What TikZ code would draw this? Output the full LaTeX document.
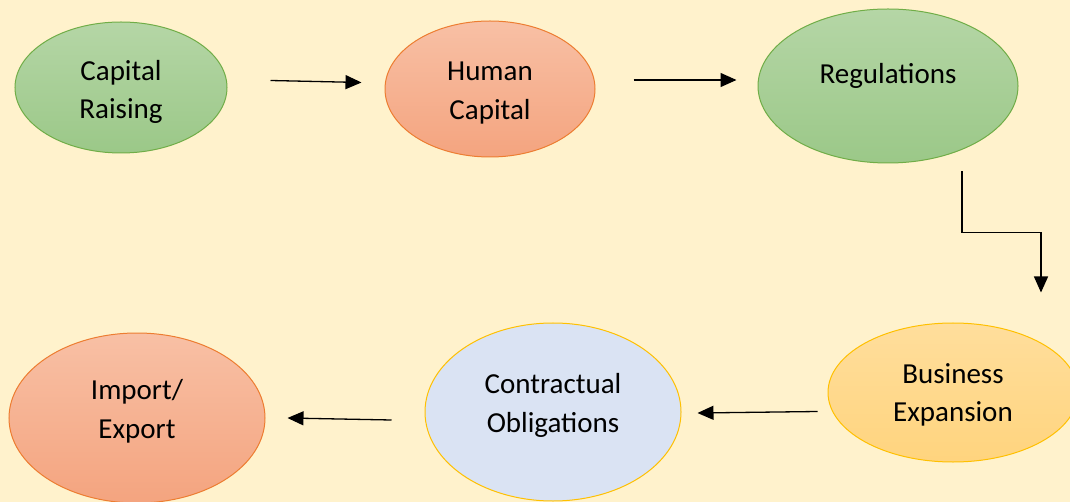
\documentclass[tikz,border=0pt]{standalone}
\usepackage{fontspec}
\setmainfont{Carlito}
\usetikzlibrary{shapes.geometric,arrows.meta,calc}
\definecolor{bg}{HTML}{FFF2CC}
\definecolor{gtop}{HTML}{B5D6A6}
\definecolor{gbot}{HTML}{9BC888}
\definecolor{gline}{HTML}{70AD47}
\definecolor{otop}{HTML}{F8C0A5}
\definecolor{obot}{HTML}{F4A47F}
\definecolor{oline}{HTML}{ED7D31}
\definecolor{ytop}{HTML}{FFDE9C}
\definecolor{ybot}{HTML}{FFD47E}
\definecolor{yline}{HTML}{FFC000}
\definecolor{bfill}{HTML}{DAE3F3}
\tikzset{
  oval/.style={ellipse, inner sep=0pt, line width=1pt},
  txt/.style={inner sep=0pt, align=center, text=black,
    font=\fontsize{29}{38.5}\selectfont},
  greenoval/.style={oval, draw=gline, top color=gtop, bottom color=gbot},
  orangeoval/.style={oval, draw=oline, top color=otop, bottom color=obot},
  yellowoval/.style={oval, draw=yline, top color=ytop, bottom color=ybot},
  blueoval/.style={oval, draw=yline, fill=bfill},
  arr/.style={line width=1.3pt, -{Triangle[length=16pt,width=14pt]}}
}
\begin{document}
\begin{tikzpicture}[x=1pt,y=-1pt]
\useasboundingbox (0,0) rectangle (1070,502);
\clip (0,0) rectangle (1070,502);
\fill[bg] (0,0) rectangle (1070,502);
\node[greenoval, minimum width=212pt, minimum height=131pt,
  label={[txt, yshift=-4.5pt]center:{Capital\\Raising}}] (cr) at (121,87.5) {};
\node[orangeoval, minimum width=210pt, minimum height=136pt,
  label={[txt, yshift=-4pt]center:{Human\\Capital}}] (hc) at (490,89) {};
\node[greenoval, minimum width=260pt, minimum height=154pt,
  label={[txt, yshift=10pt]center:{Regulations}}] (rg) at (888,86) {};
\node[yellowoval, minimum width=250pt, minimum height=139pt,
  label={[txt, yshift=-2.5pt]center:{Business\\Expansion}}] (be) at (953,392.5) {};
\node[blueoval, minimum width=256pt, minimum height=178pt,
  label={[txt, yshift=6.5pt]center:{Contractual\\Obligations}}] (co) at (553,412) {};
\node[orangeoval, minimum width=256pt, minimum height=170pt,
  label={[txt, yshift=6.5pt]center:{Import/\\Export}}] (ie) at (137,418) {};
\draw[arr] ([shift={(43,-7)}]cr.east) -- ([shift={(-23,-6.5)}]hc.west);
\draw[arr] ([shift={(38,-9)}]hc.east) -- ([shift={(-21,-6)}]rg.west);
\draw[arr] ([shift={(74,8)}]rg.south) -- ++(0,61) -| ([shift={(88,-30)}]be.north);
\draw[arr] ([shift={(-10,19)}]be.west) -- ([shift={(16,1)}]co.east);
\draw[arr] ([shift={(-33,8)}]co.west) -- ([shift={(22,0)}]ie.east);
\end{tikzpicture}
\end{document}
